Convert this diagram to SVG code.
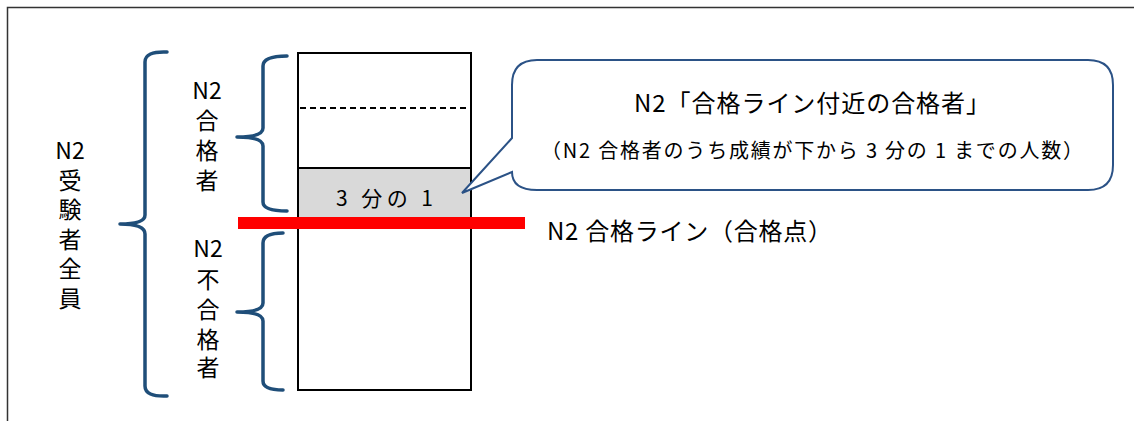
<svg xmlns="http://www.w3.org/2000/svg" width="1134" height="421" viewBox="0 0 1134 421">
<style>
.t{font-family:"Noto Sans CJK JP","Noto Sans CJK SC",sans-serif;fill:#000;}
.v{font-size:23px;text-anchor:middle;}
.br{fill:none;stroke:#1F4E79;stroke-width:3.5;stroke-linecap:round;stroke-linejoin:round;}
</style>
<rect width="1134" height="421" fill="#fff"/>
<g id="frame"><path d="M7.5,421 V7.5 H1134" fill="none" stroke="#333" stroke-width="1.5"/></g>

<g id="column">
<rect x="298" y="168" width="173" height="52" fill="#d9d9d9"/>
<rect x="298" y="53" width="173" height="337" fill="none" stroke="#000" stroke-width="2"/>
<line x1="298" y1="168" x2="471" y2="168" stroke="#000" stroke-width="2"/>
<line x1="300" y1="108" x2="469" y2="108" stroke="#000" stroke-width="2" stroke-dasharray="6,4"/>
<text class="t" x="336" y="206" font-size="21" textLength="97" lengthAdjust="spacing">3 分の 1</text>
</g>

<g id="callout">
<path d="M537,60 H1088 Q1113,60 1113,85 V165 Q1113,190 1088,190 H537 Q512,190 512,172 L462,193 L512,138 V85 Q512,60 537,60 Z" fill="#fff" stroke="#2B5286" stroke-width="2"/>
<text class="t" x="634" y="112" font-size="24" textLength="356" lengthAdjust="spacing">N2「合格ライン付近の合格者」</text>
<text class="t" x="541" y="158" font-size="20" textLength="542" lengthAdjust="spacing">（N2 合格者のうち成績が下から 3 分の 1 までの人数）</text>
</g>

<g id="passline">
<rect x="238" y="217" width="287" height="12" fill="#ff0000"/>
<text class="t" x="547" y="240" font-size="24" textLength="285" lengthAdjust="spacing">N2 合格ライン（合格点）</text>
</g>

<g id="connectors">
<path class="br" d="M167,52 Q145,51 145,62 V215 Q145,224 120,224 Q145,224 145,234 V386 Q145,397 167,396"/>
<path class="br" d="M287,56 Q263,56 263,66 V128 Q263,137 237,137 Q263,137 263,146 V202 Q263,211 287,211"/>
<path class="br" d="M283,233 Q263,233 263,243 V303 Q263,312 237,312 Q263,312 263,321 V381 Q263,390 283,390"/>
</g>

<g id="label-all">
<text class="t v" x="70" y="159"><tspan x="70">N2</tspan><tspan x="70" dy="29.5">受</tspan><tspan x="70" dy="29.5">験</tspan><tspan x="70" dy="29.5">者</tspan><tspan x="70" dy="29.5">全</tspan><tspan x="70" dy="29.5">員</tspan></text>
</g>
<g id="label-pass">
<text class="t v" x="207" y="99"><tspan x="207">N2</tspan><tspan x="207" dy="30">合</tspan><tspan x="207" dy="30">格</tspan><tspan x="207" dy="30">者</tspan></text>
</g>
<g id="label-fail">
<text class="t v" x="208" y="257"><tspan x="208">N2</tspan><tspan x="208" dy="31">不</tspan><tspan x="208" dy="30">合</tspan><tspan x="208" dy="30">格</tspan><tspan x="208" dy="28">者</tspan></text>
</g>
</svg>
